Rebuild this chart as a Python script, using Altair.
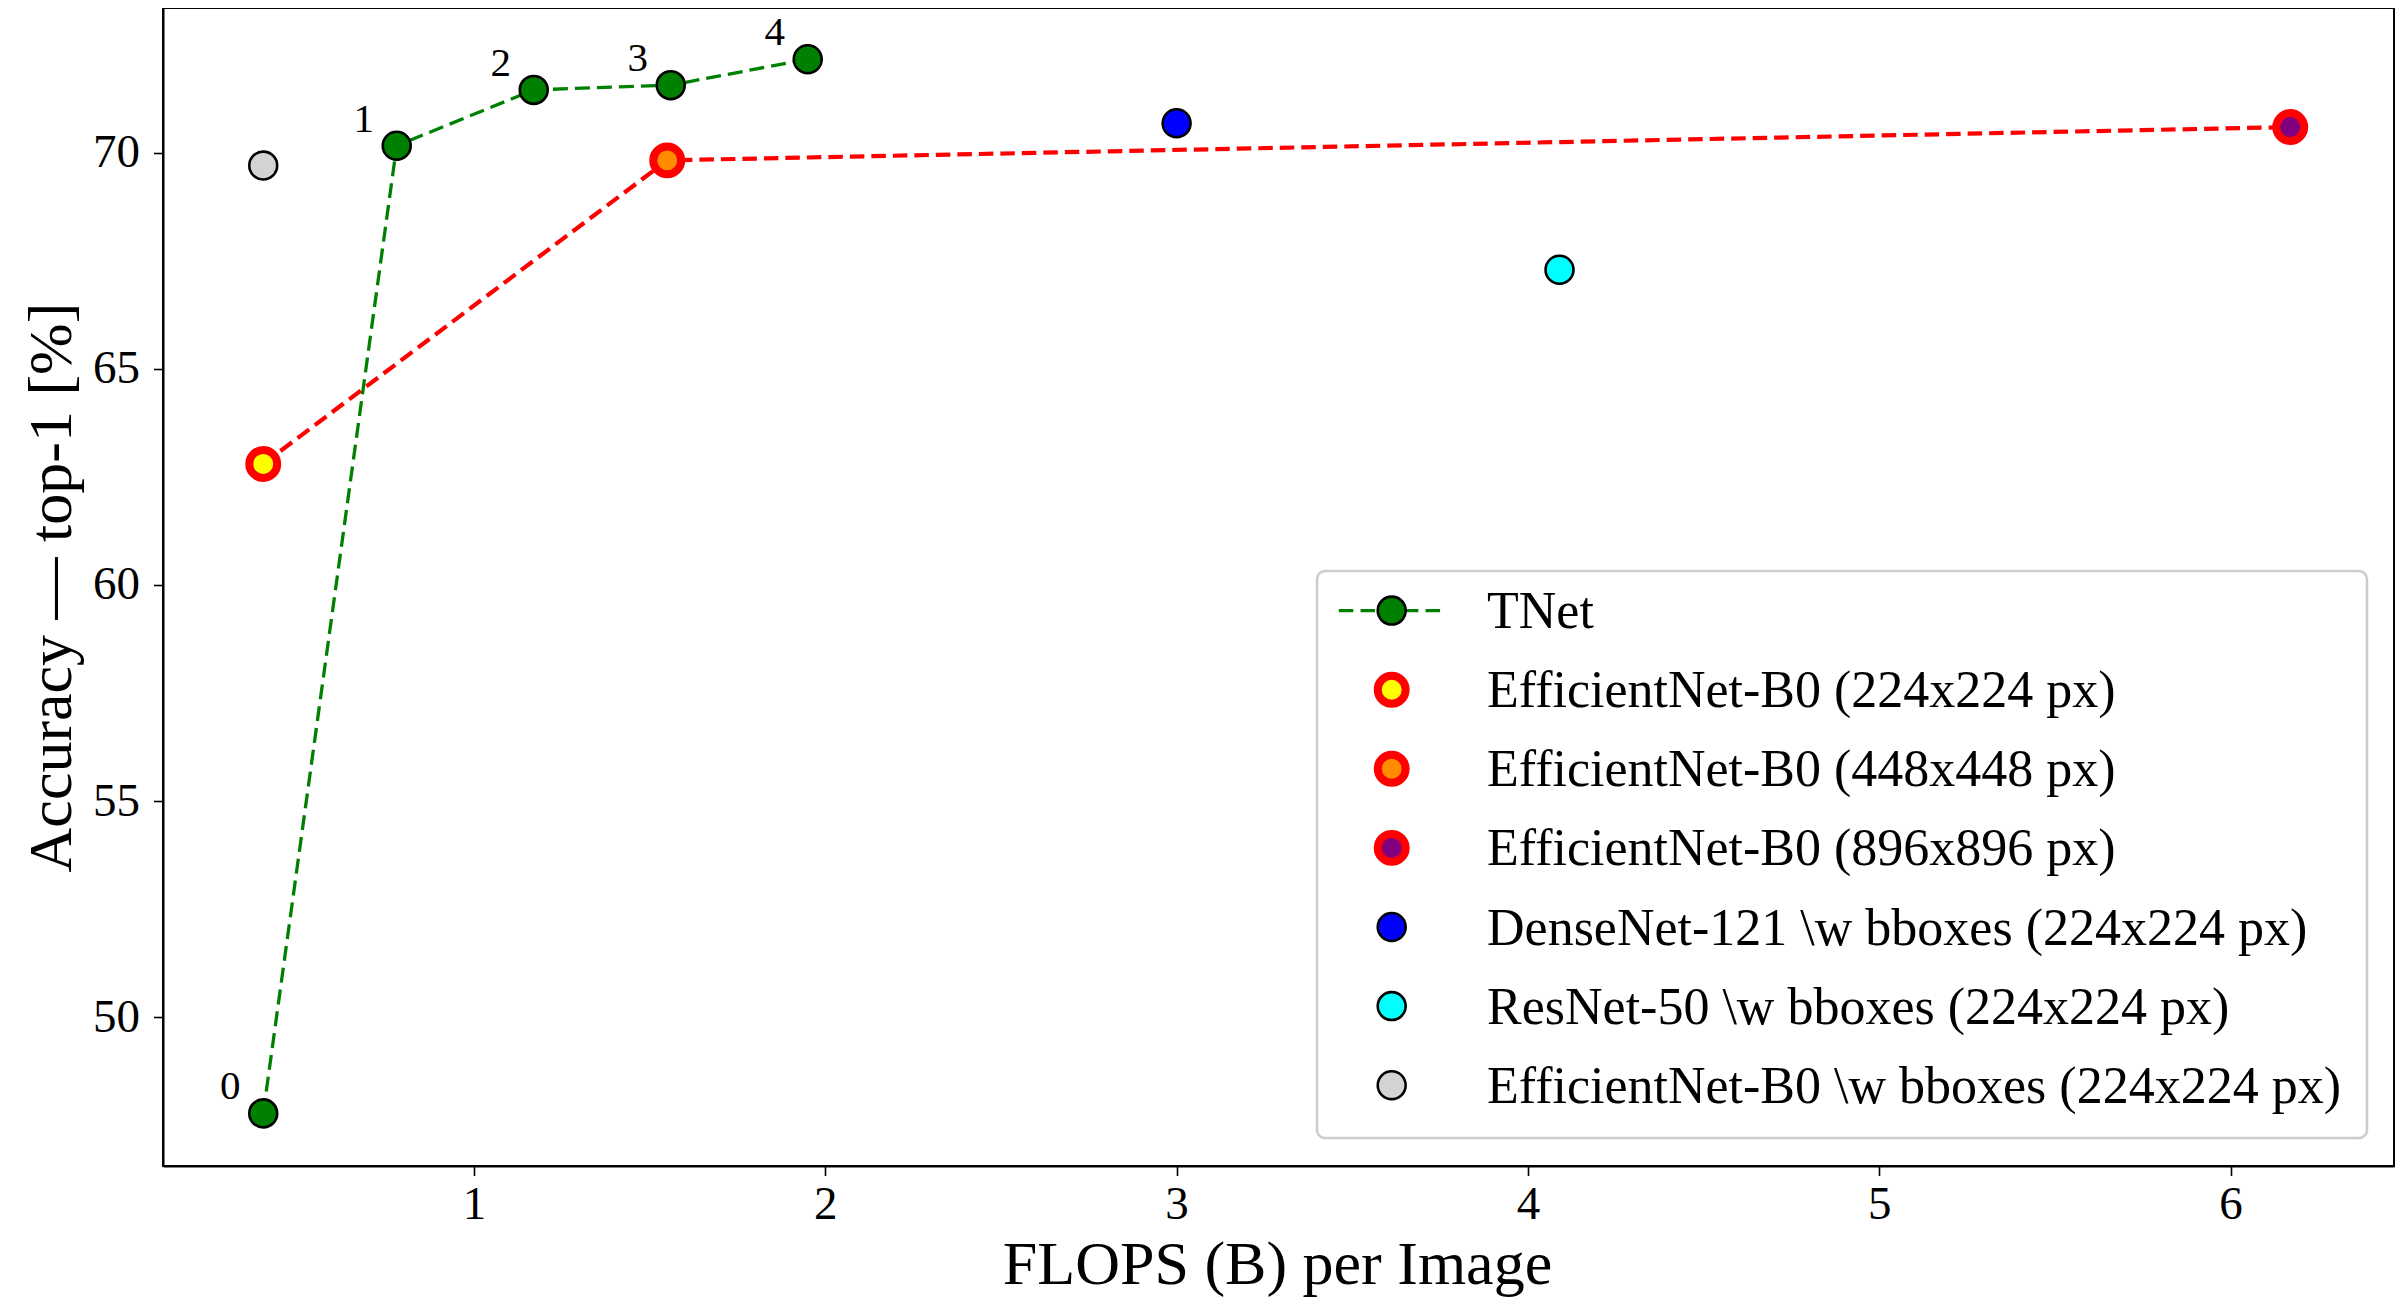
import altair as alt
import pandas as pd

# ---------------- data ----------------
tnet_flops = [0.40, 0.78, 1.17, 1.56, 1.95]
tnet_acc = [47.78, 70.16, 71.45, 71.56, 72.16]
tnet_labels = ["0", "1", "2", "3", "4"]

eff_names = ["EfficientNet-B0 (224x224 px)",
             "EfficientNet-B0 (448x448 px)",
             "EfficientNet-B0 (896x896 px)"]
eff_flops = [0.40, 1.55, 6.17]
eff_acc = [62.80, 69.82, 70.59]

bbox_names = ["DenseNet-121 \\w bboxes (224x224 px)",
              "ResNet-50 \\w bboxes (224x224 px)",
              "EfficientNet-B0 \\w bboxes (224x224 px)"]
bbox_flops = [3.00, 4.09, 0.40]
bbox_acc = [70.68, 67.29, 69.70]

series_order = ["TNet"] + eff_names + bbox_names
fill_colors = ["#008000", "#ffff00", "#ff8c00", "#800080", "#0000ff", "#00ffff", "#d3d3d3"]
ring_series = eff_names  # drawn with a thick red edge, the others with a thin black edge

x_ticks = [1, 2, 3, 4, 5, 6]
y_ticks = [50, 55, 60, 65, 70]
x_domain = [0.1147, 6.4654]
y_domain = [46.563, 73.344]

FONT = "Liberation Serif"
W, H = 2231, 1158
MARKER = 780

# ---------------- tables ----------------
tnet_df = pd.DataFrame({"flops": tnet_flops, "acc": tnet_acc, "label": tnet_labels,
                        "series": "TNet", "order": range(len(tnet_flops))})
eff_df = pd.DataFrame({"flops": eff_flops, "acc": eff_acc, "series": eff_names,
                       "order": range(len(eff_flops))})
bbox_df = pd.DataFrame({"flops": bbox_flops, "acc": bbox_acc, "series": bbox_names})
plain_df = pd.concat([tnet_df[["flops", "acc", "series"]], bbox_df], ignore_index=True)

xs = alt.Scale(domain=x_domain, zero=False, nice=False)
ys = alt.Scale(domain=y_domain, zero=False, nice=False)

fill_enc = alt.Fill("series:N", scale=alt.Scale(domain=series_order, range=fill_colors), legend=None)

x_axis = alt.Axis(values=x_ticks, format="d", labelPadding=6, labelFlush=False, labelOverlap=False,
                  title="FLOPS (B) per Image", titleX=1114, titleY=117, titleBaseline="alphabetic",
                  titleAlign="center")
y_axis = alt.Axis(values=y_ticks, format="d", labelPadding=14, labelFlush=False, labelOverlap=False,
                  title="Accuracy \u2014 top-1 [%]", titleAngle=270, titleX=-93, titleY=579,
                  titleBaseline="alphabetic", titleAlign="center")

tnet_line = alt.Chart(tnet_df).mark_line(color="#008000", strokeWidth=3.3, strokeDash=[15, 7]).encode(
    x=alt.X("flops:Q", scale=xs, axis=x_axis),
    y=alt.Y("acc:Q", scale=ys, axis=y_axis),
    order="order:Q",
)

eff_line = alt.Chart(eff_df).mark_line(color="#ff0000", strokeWidth=4.2, strokeDash=[14.5, 7]).encode(
    x=alt.X("flops:Q", scale=xs, axis=None),
    y=alt.Y("acc:Q", scale=ys, axis=None),
    order="order:Q",
)

plain_pts = alt.Chart(plain_df).mark_point(shape="circle", filled=True, size=MARKER, opacity=1,
                                           stroke="black", strokeWidth=2.6).encode(
    x=alt.X("flops:Q", scale=xs, axis=None),
    y=alt.Y("acc:Q", scale=ys, axis=None),
    fill=fill_enc,
)

ring_pts = alt.Chart(eff_df).mark_point(shape="circle", filled=True, size=MARKER, opacity=1,
                                        stroke="#ff0000", strokeWidth=8).encode(
    x=alt.X("flops:Q", scale=xs, axis=None),
    y=alt.Y("acc:Q", scale=ys, axis=None),
    fill=fill_enc,
)

labels = alt.Chart(tnet_df).mark_text(font=FONT, fontSize=41, color="black", align="center",
                                      baseline="middle", dx=-33, dy=-26).encode(
    x=alt.X("flops:Q", scale=xs, axis=None),
    y=alt.Y("acc:Q", scale=ys, axis=None),
    text="label:N",
)

# ---------------- legend (drawn inside the plot area) ----------------
row0, row_step = 602.6, 79.1
sym_x, text_x = 1228.7, 1324
leg_df = pd.DataFrame({
    "series": series_order,
    "ring": [s in ring_series for s in series_order],
    "px": [sym_x] * len(series_order),
    "py": [row0 + row_step * i for i in range(len(series_order))],
    "tx": [text_x] * len(series_order),
    "ty": [row0 + row_step * i + 17.5 for i in range(len(series_order))],
})
one = pd.DataFrame({"k": [0]})

leg_box = alt.Chart(one).mark_rect(fill="white", stroke="#cccccc", strokeWidth=2.5, cornerRadius=8,
                                   opacity=1).encode(
    x=alt.value(1154), x2=alt.value(2204), y=alt.value(563), y2=alt.value(1130))

leg_line = alt.Chart(one).mark_rule(color="#008000", strokeWidth=3.3, strokeDash=[14.5, 7.2]).encode(
    x=alt.value(1175.8), x2=alt.value(1281.6), y=alt.value(row0))

leg_plain = alt.Chart(leg_df[~leg_df["ring"]]).mark_point(
    shape="circle", filled=True, size=MARKER, opacity=1, stroke="black", strokeWidth=2.6).encode(
    x=alt.X("px:Q", scale=None, axis=None),
    y=alt.Y("py:Q", scale=None, axis=None),
    fill=fill_enc,
)

leg_ring = alt.Chart(leg_df[leg_df["ring"]]).mark_point(
    shape="circle", filled=True, size=MARKER, opacity=1, stroke="#ff0000", strokeWidth=8).encode(
    x=alt.X("px:Q", scale=None, axis=None),
    y=alt.Y("py:Q", scale=None, axis=None),
    fill=fill_enc,
)

leg_text = alt.Chart(leg_df).mark_text(font=FONT, fontSize=52, color="black", align="left",
                                       baseline="alphabetic").encode(
    x=alt.X("tx:Q", scale=None, axis=None),
    y=alt.Y("ty:Q", scale=None, axis=None),
    text="series:N",
)

chart = alt.layer(
    tnet_line, eff_line, plain_pts, ring_pts, labels,
    leg_box, leg_line, leg_plain, leg_ring, leg_text
).resolve_scale(
    x="independent", y="independent"
).properties(
    width=W, height=H,
    autosize=alt.AutoSizeParams(type="none"),
    padding={"left": 155, "top": 0, "right": 4, "bottom": 131},
).configure_view(
    stroke="black", strokeWidth=2
).configure_axis(
    grid=False,
    domainColor="black", domainWidth=2,
    tickColor="black", tickWidth=1.6, tickSize=9.5,
    labelFont=FONT, labelFontSize=47, labelColor="black",
    titleFont=FONT, titleFontSize=62, titleFontWeight="normal", titleColor="black",
)

chart.save("out.html", embed_options={"renderer": "svg", "actions": False})
